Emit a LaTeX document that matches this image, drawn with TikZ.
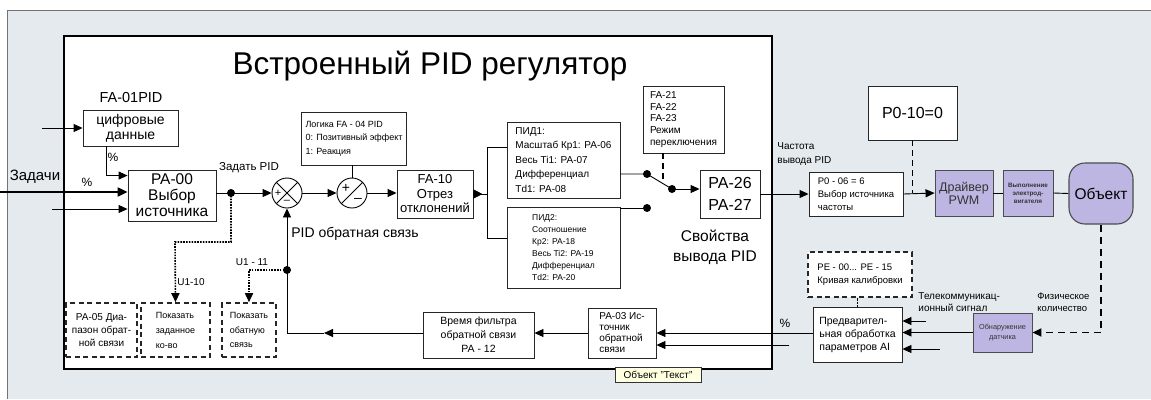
\documentclass[tikz,border=0pt]{standalone}
\usepackage{fontspec}
\setmainfont{Liberation Sans}
\usepackage{xcolor}
\usepackage{tikz}
\usetikzlibrary{arrows.meta,positioning,calc}
\definecolor{panel}{HTML}{E4EAED}
\definecolor{lila}{HTML}{BDB6E2}
\definecolor{tipyellow}{HTML}{FFFFE1}
\newcommand{\fsz}[2]{\fontsize{#1}{#2}\selectfont}

\begin{document}
\begin{tikzpicture}[x=1pt, y=-1pt, line width=0.9pt, >={Triangle[length=9pt,width=8pt]},
  blk/.style={draw=black!85, fill=white, inner sep=1pt, align=center},
  pblk/.style={blk, fill=lila, draw=black!70, text=black!80},
  dblk/.style={blk, line width=1.6pt, dash pattern=on 5pt off 3.5pt},
  lbl/.style={inner sep=0pt, align=left},
  dotl/.style={line width=1.6pt, dash pattern=on 1.6pt off 1.2pt},
  dashl/.style={line width=1.8pt, dash pattern=on 7pt off 5pt},
  sumc/.style={draw, circle, minimum size=30pt, inner sep=0pt}]
\useasboundingbox (0,0) rectangle (1151,399);
% panels
\fill[panel] (7,10) rectangle (1151,399);
\draw[black!55] (7,399) -- (7,10) -- (1151,10);
\draw[fill=white, line width=1.3pt] (64,36) rectangle (772,369);
\node[font=\fsz{31.5}{33}] (title) at (430,66) {Встроенный PID регулятор};

% setpoint side
\node[font=\fsz{14.5}{15}] (fa01) at (131,98) {FA-01PID};
\node[blk, minimum width=95pt, minimum height=36pt, font=\fsz{14}{15}] (digit) at (130.5,128) {цифровые\\данные};
\node[blk, minimum width=88pt, minimum height=51pt, font=\fsz{15.5}{16}] (src) at (172,195.5) {PA-00\\Выбор\\источника};
\node[font=\fsz{15}{16}] (task) at (35,177) {Задачи};
\node[font=\fsz{12}{13}] (pc1) at (113,157) {\%};
\node[font=\fsz{12}{13}] (pc2) at (87,182) {\%};
\node[font=\fsz{11.5}{12}] (setp) at (249,168) {Задать PID};
\coordinate (inD) at (42,128);
\coordinate (inT) at (0,192);
\coordinate (inX) at (52,209);
\draw[->] (inD) -- (digit.west);
\draw[->] ([xshift=24pt]digit.south west) |- ([yshift=-6pt]src.north west);
\draw[line width=2.2pt, -{Triangle[length=10pt,width=9pt]}] (inT) -- (inT -| src.west);
\draw[->] (inX) -- (inX -| src.west);

% comparators
\node[sumc] (sum1) at (287,193) {};
\node[sumc] (sum2) at (352,193) {};
\draw (sum1.45) -- (sum1.225) (sum1.135) -- (sum1.315);
\node[font=\fsz{11}{11}] at ([xshift=-9pt]sum1.center) {+};
\node[font=\fsz{11}{11}] at ([yshift=-9pt]sum1.center) {--};
\draw (sum2.225) -- (sum2.45);
\node[font=\fsz{14}{14}] at ([xshift=-6pt,yshift=5pt]sum2.center) {+};
\node[font=\fsz{14}{14}] at ([xshift=6pt,yshift=-7pt]sum2.center) {--};
\node[blk, minimum width=105pt, minimum height=53pt, align=left, font=\fsz{9}{13.5}] (logic) at (354,138.5) {Логика FA - 04 PID\\0: Позитивный эффект\\1: Реакция};
\node[blk, minimum width=76pt, minimum height=48pt, font=\fsz{13}{14.5}] (dev) at (435,194) {FA-10\\Отрез\\отклонений};
\coordinate (dot1) at (231,193);
\coordinate (dot2) at (287,270);
\draw (src.east |- dot1) -- (dot1);
\draw[->] (dot1) -- (sum1.west);
\draw[->] (sum1.east) -- (sum2.west);
\draw (logic.south -| sum2) -- (sum2.north);
\draw[->] (sum2.east) -- (sum2.east -| dev.west);

% PID sets and switch
\node[blk, minimum width=113pt, minimum height=76pt, align=left, font=\fsz{10}{14.5}] (pid1) at (563.5,160) {ПИД1:\\Масштаб Кр1: PA-06\\Весь Ti1: PA-07\\Дифференциал\\Td1: PA-08};
\node[blk, minimum width=113pt, minimum height=81pt, align=left, font=\fsz{8.5}{12}] (pid2) at (563.5,247.5) {ПИД2:\\Соотношение\\Кр2: PA-18\\Весь Ti2: PA-19\\Дифференциал\\Td2: PA-20};
\node[blk, minimum width=81pt, minimum height=67pt, align=left, font=\fsz{10}{11.7}] (swsel) at (683.5,119.5) {FA-21\\FA-22\\FA-23\\Режим\\переключения};
\node[blk, minimum width=60pt, minimum height=48pt, font=\fsz{16}{22}] (out) at (730,194) {PA-26\\PA-27};
\node[align=center, font=\fsz{15.5}{20}] (outlbl) at (715,247) {Свойства\\вывода PID};
\coordinate (fork) at (487,194);
\coordinate (f1) at (487,147);
\coordinate (f2) at (487,238);
\draw (dev.east) -- (fork);
\draw[-{Triangle[length=9pt,width=9pt]}] (dev.east) -- ([xshift=9pt]dev.east);
\draw (f1 -| pid1.west) -- (f1) -- (f2) -- (f2 -| pid2.west);
\coordinate (sw1) at (647,174);
\coordinate (sw2) at (647,208);
\coordinate (sw3) at (672,189);
\coordinate (swk) at (663,183);
\draw (pid1.east |- sw1) -- (sw1) -- (sw3);
\draw (pid2.east |- sw2) -- (sw2);
\draw[->] (sw3) -- (sw3 -| out.west);
\draw[line width=1.6pt, dash pattern=on 6pt off 4pt] (swk |- swsel.south) -- (swk);

% feedback path
\node[font=\fsz{14}{15}] (fblbl) at (355,234) {PID обратная связь};
\node[blk, minimum width=111pt, minimum height=46pt, font=\fsz{10.5}{14}] (filt) at (478.5,335) {Время фильтра\\обратной связи\\PA - 12};
\node[blk, minimum width=68pt, minimum height=50pt, align=left, font=\fsz{10}{11}] (fbsrc) at (622,333) {PA-03 Ис-\\точник\\обратной\\связи};
\coordinate (fbc) at (287,333);
\coordinate (fbm) at (324,333);
\coordinate (fb2) at (789,345);
\draw[->] (fbsrc.west) -- (fbsrc.west -| filt.east);
\draw[->] (filt.west |- fbc) -- (fbm);
\draw (fbm) -- (fbc);
\draw[->] (fbc) -- (sum1.south);
\draw[->] (fb2) -- (fb2 -| fbsrc.east);

% monitor values
\node[dblk, minimum width=71pt, minimum height=54pt, font=\fsz{10}{13}] (pa05) at (101.5,330) {PA-05 Диа-\\пазон обрат-\\ной связи};
\node[dblk, minimum width=69pt, minimum height=54pt, align=left, font=\fsz{9}{15}] (showset) at (175.5,330) {Показать\\заданное\\ко-во};
\node[dblk, minimum width=54pt, minimum height=54pt, align=left, font=\fsz{9}{14.5}] (showfb) at (249,330) {Показать\\обатную\\связь};
\node[font=\fsz{10}{11}] (u10) at (191,282) {U1-10};
\node[font=\fsz{10}{11}] (u11) at (252,262) {U1 - 11};
\coordinate (u10k) at (175,242);
\draw[dotl, ->] (dot1) |- (u10k) -- (showset.north);
\draw[dotl, ->] (dot2) -| (showfb.north);
\foreach \d in {dot1,dot2,sw1,sw2,sw3} \fill (\d) circle (4pt);

% drive side
\node[lbl, font=\fsz{10}{14}] (frq) at (777,154) [anchor=west] {Частота\\вывода PID};
\node[blk, minimum width=94pt, minimum height=44pt, align=left, font=\fsz{9.5}{13}] (fsrc) at (856,194) {P0 - 06 = 6\\Выбор источника\\частоты};
\node[blk, minimum width=89pt, minimum height=54pt, font=\fsz{16}{17}] (p010) at (912.5,113) {P0-10=0};
\node[pblk, minimum width=58pt, minimum height=46pt, font=\fsz{12.5}{13}] (pwm) at (964,193) {Драйвер\\PWM};
\node[pblk, minimum width=50pt, minimum height=46pt, font=\bfseries\fsz{6.3}{8}] (motor) at (1028,193) {Выполнение\\электрод-\\вигателя};
\node[blk, rounded corners=16pt, fill=lila, draw=black!70, line width=1.1pt, minimum width=64pt, minimum height=61pt, font=\fsz{15.5}{16}] (obj) at (1101,193.5) {Объект};
\draw[->] (out.east) -- (fsrc.west);
\draw[->] (fsrc.east) -- (pwm.west);
\draw[line width=1.6pt, dash pattern=on 6pt off 4pt] (p010.south) -- (p010.south |- pwm.west);
\draw (pwm.east) -- (motor.west);
\draw (motor.east) -- (obj.west);

% sensor side
\node[pblk, minimum width=59pt, minimum height=39pt, font=\fsz{7.3}{10}] (sensor) at (1002.5,332.5) {Обнаружение\\датчика};
\node[blk, minimum width=89pt, minimum height=55pt, align=left, font=\fsz{10.5}{13}] (pre) at (857.5,334.5) {Предварител-\\ьная обработка\\параметров AI};
\node[dblk, minimum width=104pt, minimum height=45pt, align=left, font=\fsz{9.5}{13}] (pe) at (860,274.5) {PE - 00... PE - 15\\Кривая калибровки};
\node[lbl, font=\fsz{10}{12}] (tele) at (918,302) [anchor=west] {Телекоммуникац-\\ионный сигнал};
\node[lbl, font=\fsz{9.5}{12}] (phys) at (1037,302) [anchor=west] {Физическое\\количество};
\node[font=\fsz{12}{13}] (pc3) at (785,323) {\%};
\coordinate (tc1) at (926,321);
\coordinate (tc2) at (940,349);
\draw[dashl, ->] (obj.south) |- (sensor.east);
\draw[->] (sensor.west) -- (sensor.west -| pre.east);
\draw[->] (tc1) -- (tc1 -| pre.east);
\draw[->] (tc2) -- (tc2 -| pre.east);
\draw[dotl] (pre.north) -- (pre.north |- pe.south);
\draw[->] (pre.west |- fbsrc) -- (fbsrc.east);

% tooltip
\node[draw=black!80, fill=tipyellow, line width=0.6pt, inner sep=1.5pt, minimum width=86pt, minimum height=15pt, font=\fsz{10}{11}] (tip) at (658,374.5) {Объект "Текст"};
\end{tikzpicture}
\end{document}
